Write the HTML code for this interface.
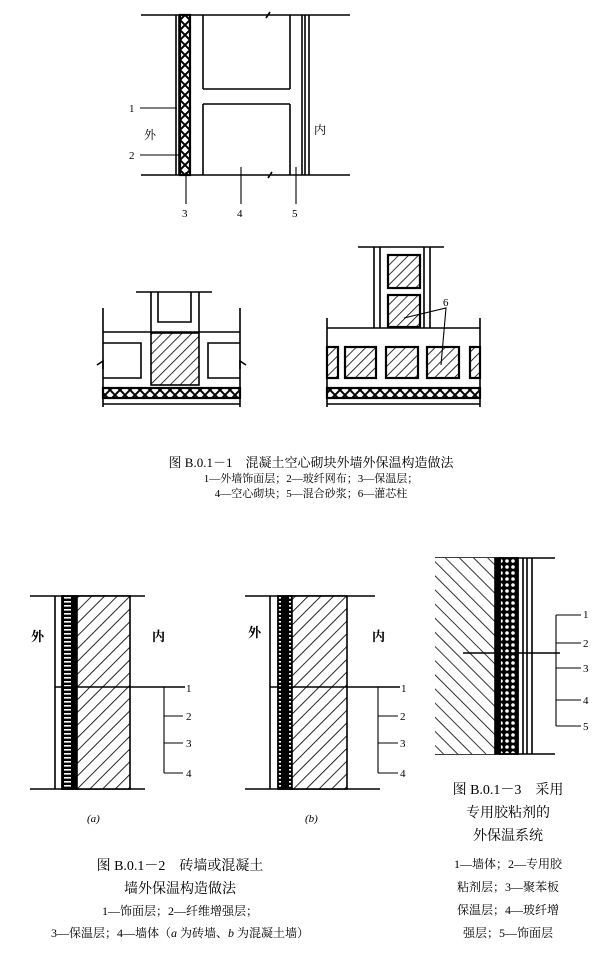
<!DOCTYPE html>
<html><head><meta charset="utf-8"><style>
html,body{margin:0;padding:0;background:#fff;}
svg{display:block;}
text{font-family:"Liberation Serif","Noto Serif CJK SC",serif;fill:#000;}
</style></head><body>
<svg width="616" height="953" viewBox="0 0 616 953" xmlns="http://www.w3.org/2000/svg">
<defs>
<pattern id="hat" width="9" height="9" patternUnits="userSpaceOnUse" patternTransform="rotate(45)">
<rect width="9" height="9" fill="#fff"/><line x1="0" y1="0" x2="0" y2="9" stroke="#000" stroke-width="1.7"/></pattern>
<pattern id="hat2" width="7" height="7" patternUnits="userSpaceOnUse" patternTransform="rotate(45)">
<rect width="7" height="7" fill="#fff"/><line x1="0" y1="0" x2="0" y2="7" stroke="#000" stroke-width="1.6"/></pattern>
<pattern id="hatR" width="10" height="10" patternUnits="userSpaceOnUse" patternTransform="rotate(-45)">
<rect width="10" height="10" fill="#fff"/><line x1="0" y1="0" x2="0" y2="10" stroke="#000" stroke-width="1.6"/></pattern>
<pattern id="xx" width="10" height="10" patternUnits="userSpaceOnUse">
<rect width="10" height="10" fill="#fff"/><path d="M0 0L10 10M10 0L0 10" stroke="#000" stroke-width="2"/></pattern>
<pattern id="xv" width="10" height="10" patternUnits="userSpaceOnUse">
<rect width="10" height="10" fill="#fff"/><path d="M0 0L10 10M10 0L0 10" stroke="#000" stroke-width="2"/></pattern>
<pattern id="dash" width="15" height="4" patternUnits="userSpaceOnUse">
<rect width="15" height="4" fill="#000"/><rect x="4" y="1" width="7" height="1.6" fill="#fff"/></pattern>
<pattern id="circ" width="6" height="6" patternUnits="userSpaceOnUse">
<rect width="6" height="6" fill="#000"/><circle cx="3" cy="3" r="1.8" fill="#fff"/></pattern>
</defs>
<g stroke="#000" fill="none" stroke-width="1.6">
<!-- Fig 1 -->
<line x1="141" y1="15" x2="350" y2="15"/><line x1="141" y1="175" x2="350" y2="175"/>
<path d="M266 18l4-6M268 178l4-6" />
<line x1="176" y1="15" x2="176" y2="175"/><line x1="179" y1="15" x2="179" y2="175"/>
<rect x="180" y="15" width="10" height="160" fill="url(#xv)" stroke-width="2.2"/>
<line x1="203" y1="15" x2="203" y2="89"/><line x1="203" y1="89" x2="290" y2="89"/><line x1="290" y1="15" x2="290" y2="89"/>
<line x1="203" y1="104" x2="203" y2="175"/><line x1="203" y1="104" x2="290" y2="104"/><line x1="290" y1="104" x2="290" y2="175"/>
<line x1="302" y1="15" x2="302" y2="175"/><line x1="305" y1="15" x2="305" y2="175"/><line x1="309" y1="15" x2="309" y2="175"/>
<line x1="140" y1="108" x2="177" y2="108" stroke-width="1.1"/><line x1="140" y1="155" x2="180" y2="155" stroke-width="1.1"/>
<line x1="186" y1="172" x2="186" y2="204" stroke-width="1.1"/><line x1="241" y1="167" x2="241" y2="204" stroke-width="1.1"/><line x1="296" y1="167" x2="296" y2="204" stroke-width="1.1"/>
<!-- Fig 2 left -->
<line x1="136" y1="292" x2="212" y2="292"/>
<path d="M151 292V332M158 292V322H191V292M199 292V332"/>
<path d="M103 308V407M240 308V407M103 332H240"/>
<path d="M103 343H141V378H103M240 343H208V378H240"/>
<path d="M97 365l6-4v8M246 365l-6-4v8"/>
<rect x="151" y="333" width="48" height="52" fill="url(#hat2)"/>
<rect x="103" y="388" width="137" height="10" fill="url(#xx)" stroke-width="2.2"/>
<line x1="103" y1="404" x2="240" y2="404"/>
<!-- Fig 2 right -->
<line x1="358" y1="247" x2="444" y2="247"/>
<path d="M374 247V328M380 247V328M430 247V328M424 247V328M327 328H480M327 318V407M480 318V407"/>
<rect x="388" y="255" width="32" height="33" fill="url(#hat2)" stroke-width="2.2"/>
<rect x="388" y="295" width="32" height="32" fill="url(#hat2)" stroke-width="2.2"/>
<rect x="345" y="347" width="31" height="31" fill="url(#hat2)" stroke-width="2.2"/>
<rect x="386" y="347" width="32" height="31" fill="url(#hat2)" stroke-width="2.2"/>
<rect x="427" y="347" width="32" height="31" fill="url(#hat2)" stroke-width="2.2"/>
<rect x="327" y="347" width="11" height="31" fill="url(#hat2)" stroke-width="2.2"/>
<rect x="470" y="347" width="10" height="31" fill="url(#hat2)" stroke-width="2.2"/>
<rect x="327" y="388" width="153" height="10" fill="url(#xx)" stroke-width="2.2"/>
<line x1="327" y1="404" x2="480" y2="404"/>
<path d="M404 318L446 308L441 365" stroke-width="1.1"/>
<!-- Fig 3a -->
<line x1="30" y1="596" x2="145" y2="596"/><line x1="30" y1="789" x2="145" y2="789"/>
<line x1="55" y1="596" x2="55" y2="789"/>
<rect x="62" y="596" width="15" height="193" fill="url(#dash)" stroke-width="1.8"/>
<rect x="77" y="596" width="53" height="193" fill="url(#hat)"/>
<line x1="55" y1="687" x2="185" y2="687"/>
<path d="M164 687V773M164 716H183M164 743H183M164 773H183" stroke-width="1.1"/>
<!-- Fig 3b -->
<line x1="245" y1="596" x2="375" y2="596"/><line x1="245" y1="789" x2="380" y2="789"/>
<line x1="270" y1="596" x2="270" y2="789"/>
<rect x="278" y="596" width="14" height="193" fill="url(#dash)" stroke-width="1.8"/>
<rect x="292" y="596" width="55" height="193" fill="url(#hat)"/>
<line x1="270" y1="687" x2="400" y2="687"/>
<path d="M378 687V773M378 716H398M378 743H398M378 773H398" stroke-width="1.1"/>
<!-- Fig 4 -->
<line x1="435" y1="558" x2="555" y2="558"/><line x1="435" y1="754" x2="555" y2="754"/>
<rect x="435" y="558" width="60" height="196" fill="url(#hatR)" stroke="none"/>
<rect x="495" y="558" width="5" height="196" fill="#000"/>
<rect x="500" y="558" width="18" height="196" fill="url(#circ)" stroke-width="1.8"/>
<path d="M523 558V754M527 558V754M532 558V754"/>
<line x1="463" y1="653" x2="560" y2="653"/>
<path d="M556 615V726M556 615H581M556 643H581M556 668H581M556 700H581M556 726H581" stroke-width="1.1"/>
</g>
<g font-size="11">
<text x="129" y="112">1</text><text x="129" y="159">2</text><text x="182" y="217">3</text><text x="237" y="217">4</text><text x="292" y="217">5</text>
<text x="144" y="139" font-size="12">外</text><text x="314" y="134" font-size="12">内</text>
<text x="443" y="306">6</text>
<text x="186" y="692">1</text><text x="186" y="720">2</text><text x="186" y="747">3</text><text x="186" y="777">4</text>
<text x="401" y="692">1</text><text x="400" y="720">2</text><text x="400" y="747">3</text><text x="400" y="777">4</text>
<text x="583" y="618">1</text><text x="583" y="647">2</text><text x="583" y="672">3</text><text x="583" y="704">4</text><text x="583" y="730">5</text>
<text x="31" y="641" font-size="13" font-weight="bold">外</text><text x="152" y="641" font-size="13" font-weight="bold">内</text>
<text x="248" y="637" font-size="13" font-weight="bold">外</text><text x="372" y="641" font-size="13" font-weight="bold">内</text>
<text x="87" y="822" font-style="italic">(a)</text><text x="305" y="822" font-style="italic">(b)</text>
</g>
<g text-anchor="middle">
<text x="311" y="467" font-size="13">图 B.0.1－1　混凝土空心砌块外墙外保温构造做法</text>
<text x="311" y="482" font-size="11">1—外墙饰面层；2—玻纤网布；3—保温层；</text>
<text x="311" y="497" font-size="11">4—空心砌块；5—混合砂浆；6—灌芯柱</text>
<text x="180" y="870" font-size="14">图 B.0.1－2　砖墙或混凝土</text>
<text x="180" y="893" font-size="14">墙外保温构造做法</text>
<text x="180" y="915" font-size="12">1—饰面层；2—纤维增强层；</text>
<text x="180" y="937" font-size="12">3—保温层；4—墙体（<tspan font-style="italic">a</tspan> 为砖墙、<tspan font-style="italic">b</tspan> 为混凝土墙）</text>
<text x="508" y="794" font-size="14">图 B.0.1－3　采用</text>
<text x="508" y="817" font-size="14">专用胶粘剂的</text>
<text x="508" y="840" font-size="14">外保温系统</text>
<text x="508" y="868" font-size="12">1—墙体；2—专用胶</text>
<text x="508" y="891" font-size="12">粘剂层；3—聚苯板</text>
<text x="508" y="914" font-size="12">保温层；4—玻纤增</text>
<text x="508" y="937" font-size="12">强层；5—饰面层</text>
</g>
</svg>
</body></html>
